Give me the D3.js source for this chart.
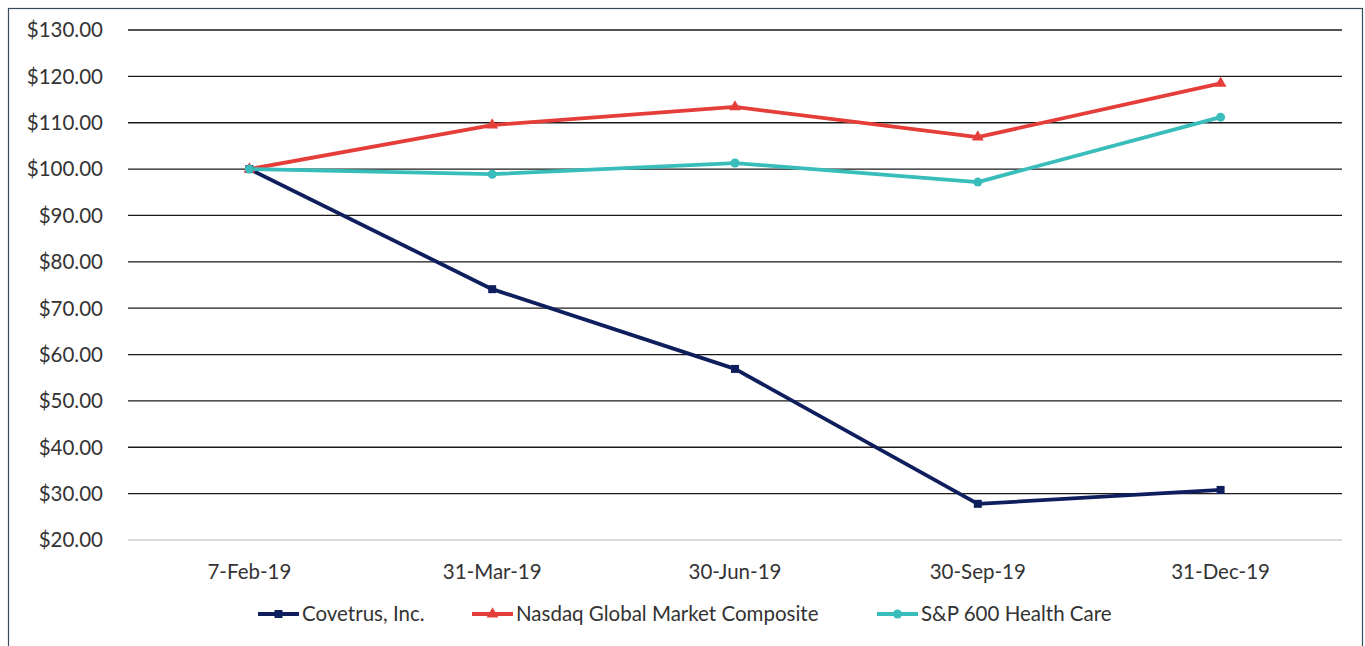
<!DOCTYPE html>
<html><head><meta charset="utf-8">
<script src="https://cdn.jsdelivr.net/npm/d3@7"></script>
<style>body{margin:0;background:#fff}svg{display:block}text{font-family:Lato,"Open Sans",sans-serif;fill:#333}</style>
</head><body><svg id="c" width="1365" height="646"></svg>
<script>
const categories = ["7-Feb-19","31-Mar-19","30-Jun-19","30-Sep-19","31-Dec-19"];
const covetrus = [100, 74.1, 56.9, 27.8, 30.8];
const nasdaq = [100, 109.5, 113.4, 106.9, 118.5];
const spHealth = [100, 98.9, 101.3, 97.2, 111.2];
const yTicks = [20,30,40,50,60,70,80,90,100,110,120,130];
const seriesNames = ["Covetrus, Inc.","Nasdaq Global Market Composite","S&P 600 Health Care"];

const svg = d3.select("#c");
svg.append("rect").attr("x",8.5).attr("y",8.5).attr("width",1354).attr("height",650)
  .attr("fill","none").attr("stroke","#3b4a5e").attr("stroke-width",1.2);

const x = d3.scaleBand().domain(categories).range([128,1342]);
const y = d3.scaleLinear().domain([20,130]).range([540,30]);

svg.append("g").selectAll("line").data(yTicks).join("line")
  .attr("x1",128).attr("x2",1342).attr("y1",d=>y(d)).attr("y2",d=>y(d))
  .attr("stroke",d=>d===20?"#d0d0d0":"#1a1a1a").attr("stroke-width",1.3);
const fmt = d3.format("$.2f");
svg.append("g").selectAll("text").data(yTicks).join("text")
  .attr("x",103).attr("y",d=>y(d)).attr("dy","0.36em").attr("text-anchor","end")
  .attr("font-size",20.5).text(d=>fmt(d));
svg.append("g").selectAll("text").data(categories).join("text")
  .attr("x",d=>x(d)+x.bandwidth()/2).attr("y",572).attr("dy","0.36em").attr("text-anchor","middle")
  .attr("font-size",20.5).text(d=>d);

const series = [
  {name:seriesNames[0], vals:covetrus, color:"#0f1f5e", sym:d3.symbolSquare, size:64},
  {name:seriesNames[1], vals:nasdaq, color:"#e53e3a", sym:d3.symbolTriangle, size:60},
  {name:seriesNames[2], vals:spHealth, color:"#38bdbb", sym:d3.symbolCircle, size:64}
];
const cx = d => x(d)+x.bandwidth()/2;
const line = d3.line().x((v,i)=>cx(categories[i])).y(v=>y(v));
series.forEach(s=>{
  svg.append("path").datum(s.vals).attr("d",line).attr("fill","none")
    .attr("stroke",s.color).attr("stroke-width",3.8).attr("stroke-linejoin","round");
});
series.forEach(s=>{
  svg.append("g").selectAll("path").data(s.vals).join("path")
    .attr("d",d3.symbol().type(s.sym).size(s.size))
    .attr("transform",(v,i)=>`translate(${cx(categories[i])},${y(v)})`)
    .attr("fill",s.color);
});
const legX = [258, 472, 877];
series.forEach((s,i)=>{
  const g = svg.append("g").attr("transform",`translate(${legX[i]},614)`);
  g.append("line").attr("x1",0).attr("x2",41).attr("stroke",s.color).attr("stroke-width",3.8);
  g.append("path").attr("d",d3.symbol().type(s.sym).size(s.size)).attr("transform","translate(20.5,0)").attr("fill",s.color);
  g.append("text").attr("x",44).attr("dy","0.36em").attr("font-size",20.5).text(s.name);
});
</script></body></html>
